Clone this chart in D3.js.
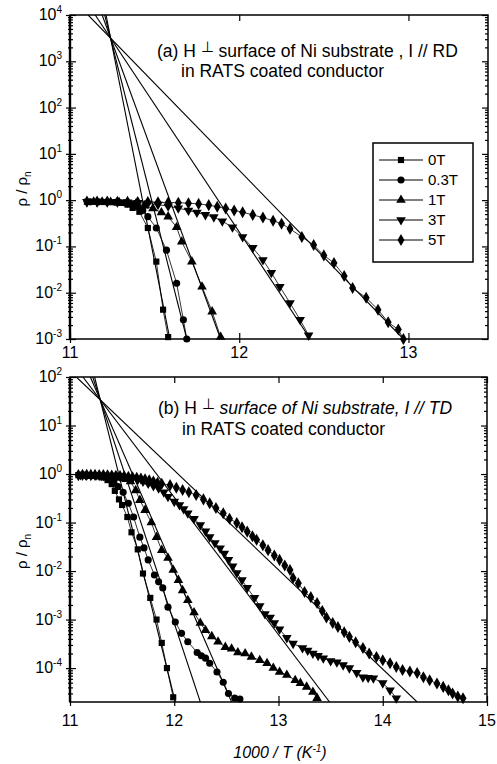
<!DOCTYPE html>
<html>
<head>
<meta charset="utf-8">
<script src="https://cdn.jsdelivr.net/npm/d3@7"></script>
<style>
  body { margin: 0; background: #fff; }
  svg { font-family: "Liberation Sans", Arial, sans-serif; }
</style>
</head>
<body>
<div class="container"></div>
<script>
// field labels (legend) and tick values
const fields = ["0T", "0.3T", "1T", "3T", "5T"];
const rdTicksX = [11, 12, 13];
const tdTicksX = [11, 12, 13, 14, 15];
const rdExponents = [-3, -2, -1, 0, 1, 2, 3, 4];
const tdExponents = [-4, -3, -2, -1, 0, 1, 2];

// (a) I // RD : [1000/T, rho/rho_n]
const rd0T = [[11.10,0.92],[11.15,0.92],[11.20,0.91],[11.25,0.90],[11.30,0.87],[11.34,0.80],[11.37,0.68],[11.41,0.56],[11.46,0.25],[11.51,0.047],[11.55,0.0043],[11.58,0.0011]];
const rd03T = [[11.12,0.92],[11.17,0.92],[11.22,0.91],[11.27,0.90],[11.32,0.88],[11.36,0.84],[11.40,0.74],[11.43,0.60],[11.46,0.44],[11.51,0.25],[11.57,0.083],[11.63,0.016],[11.67,0.0026],[11.69,0.0010]];
const rd1T = [[11.14,0.92],[11.19,0.92],[11.24,0.91],[11.29,0.90],[11.34,0.88],[11.39,0.84],[11.44,0.76],[11.49,0.66],[11.54,0.54],[11.58,0.44],[11.63,0.26],[11.66,0.126],[11.72,0.047],[11.78,0.0135],[11.84,0.0039],[11.89,0.0011]];
const rd3T = [[11.10,0.92],[11.16,0.92],[11.22,0.92],[11.28,0.91],[11.34,0.90],[11.40,0.88],[11.46,0.85],[11.52,0.80],[11.58,0.74],[11.64,0.67],[11.70,0.60],[11.75,0.54],[11.80,0.48],[11.85,0.43],[11.90,0.35],[11.96,0.26],[12.02,0.16],[12.08,0.093],[12.14,0.051],[12.19,0.027],[12.24,0.0135],[12.30,0.0060],[12.36,0.0026],[12.41,0.0012]];
const rd5T = [[11.10,0.93],[11.16,0.93],[11.22,0.93],[11.28,0.92],[11.34,0.92],[11.40,0.91],[11.46,0.91],[11.52,0.90],[11.58,0.89],[11.64,0.88],[11.70,0.86],[11.76,0.83],[11.82,0.78],[11.87,0.72],[11.92,0.66],[11.97,0.60],[12.02,0.55],[12.08,0.48],[12.14,0.42],[12.20,0.36],[12.25,0.31],[12.30,0.24],[12.37,0.16],[12.44,0.107],[12.50,0.064],[12.56,0.044],[12.62,0.023],[12.67,0.0126],[12.75,0.0078],[12.82,0.0043],[12.88,0.0023],[12.94,0.0016],[12.97,0.0010]];
// straight Arrhenius fits, (a)
const rdFits = [
  [[11.213,1e4],[11.59,1e-3]],
  [[11.205,1e4],[11.69,1e-3]],
  [[11.19,1e4],[11.89,1e-3]],
  [[11.149,1e4],[12.42,1e-3]],
  [[11.107,1e4],[12.97,1e-3]]
];

// (b) I // TD
const td0T = [[11.08,0.95],[11.12,0.95],[11.16,0.94],[11.20,0.93],[11.24,0.92],[11.28,0.90],[11.32,0.85],[11.36,0.75],[11.40,0.62],[11.43,0.45],[11.47,0.30],[11.50,0.23],[11.55,0.13],[11.59,0.063],[11.65,0.028],[11.70,0.0089],[11.77,0.0028],[11.83,0.0010],[11.88,0.00033],[11.93,0.00010],[11.99,0.000025]];
const td03T = [[11.10,0.95],[11.14,0.95],[11.18,0.94],[11.22,0.93],[11.26,0.92],[11.30,0.90],[11.34,0.87],[11.38,0.80],[11.42,0.68],[11.46,0.55],[11.51,0.42],[11.56,0.25],[11.61,0.13],[11.67,0.050],[11.71,0.030],[11.75,0.017],[11.81,0.0083],[11.85,0.0060],[11.89,0.0045],[11.94,0.0018],[12.01,0.00089],[12.07,0.00052],[12.13,0.00035],[12.22,0.00021],[12.26,0.00018],[12.30,0.00016],[12.34,0.000126],[12.41,0.000083],[12.47,0.000051],[12.52,0.000030],[12.58,0.000024],[12.63,0.000023]];
const td1T = [[11.12,0.95],[11.16,0.95],[11.20,0.94],[11.24,0.93],[11.28,0.92],[11.32,0.91],[11.36,0.90],[11.41,0.88],[11.46,0.86],[11.50,0.83],[11.54,0.78],[11.58,0.70],[11.63,0.46],[11.67,0.29],[11.72,0.18],[11.78,0.10],[11.83,0.050],[11.88,0.027],[11.94,0.0186],[11.99,0.0105],[12.04,0.0065],[12.08,0.0040],[12.13,0.0025],[12.19,0.0014],[12.25,0.00085],[12.30,0.00060],[12.36,0.00045],[12.42,0.00035],[12.49,0.00027],[12.55,0.00025],[12.61,0.00021],[12.68,0.00020],[12.74,0.00017],[12.82,0.000145],[12.89,0.000126],[12.95,0.000100],[13.01,0.000083],[13.08,0.000072],[13.16,0.000056],[13.21,0.000049],[13.27,0.000041],[13.33,0.000032],[13.37,0.000024]];
const td3T = [[11.10,0.96],[11.15,0.96],[11.20,0.95],[11.25,0.95],[11.30,0.94],[11.35,0.93],[11.40,0.92],[11.45,0.90],[11.50,0.88],[11.55,0.85],[11.60,0.81],[11.65,0.76],[11.70,0.70],[11.75,0.64],[11.80,0.57],[11.85,0.51],[11.90,0.42],[11.94,0.34],[12.00,0.27],[12.05,0.23],[12.09,0.19],[12.13,0.155],[12.19,0.12],[12.25,0.089],[12.30,0.066],[12.34,0.050],[12.39,0.038],[12.44,0.0295],[12.48,0.023],[12.52,0.017],[12.56,0.0125],[12.60,0.0091],[12.65,0.0065],[12.70,0.0045],[12.77,0.0028],[12.82,0.0019],[12.87,0.0013],[12.92,0.0011],[12.96,0.00085],[13.01,0.00063],[13.08,0.00042],[13.14,0.00032],[13.23,0.00026],[13.28,0.00023],[13.33,0.00020],[13.38,0.00018],[13.43,0.00016],[13.50,0.00014],[13.56,0.000132],[13.62,0.000115],[13.68,0.000100],[13.75,0.000080],[13.81,0.000065],[13.86,0.000063],[13.91,0.000062],[14.00,0.000049],[14.07,0.000035],[14.13,0.000024]];
const td5T = [[11.08,0.95],[11.12,0.96],[11.16,0.96],[11.20,0.96],[11.24,0.96],[11.28,0.95],[11.32,0.95],[11.36,0.94],[11.40,0.93],[11.44,0.92],[11.48,0.91],[11.52,0.90],[11.56,0.88],[11.60,0.86],[11.64,0.84],[11.68,0.81],[11.72,0.78],[11.76,0.74],[11.80,0.70],[11.84,0.66],[11.88,0.63],[11.96,0.59],[12.02,0.52],[12.08,0.47],[12.14,0.42],[12.21,0.37],[12.28,0.30],[12.34,0.25],[12.40,0.20],[12.47,0.155],[12.53,0.12],[12.60,0.098],[12.65,0.080],[12.70,0.065],[12.75,0.052],[12.79,0.044],[12.85,0.034],[12.90,0.027],[12.96,0.021],[13.01,0.017],[13.06,0.013],[13.11,0.0105],[13.14,0.0072],[13.19,0.0056],[13.25,0.0037],[13.31,0.0029],[13.37,0.0022],[13.42,0.0015],[13.46,0.0011],[13.52,0.00085],[13.57,0.00070],[13.63,0.00055],[13.68,0.00044],[13.74,0.00034],[13.81,0.00026],[13.87,0.00020],[13.94,0.00017],[14.00,0.000145],[14.07,0.000126],[14.13,0.000105],[14.19,0.000091],[14.26,0.000085],[14.33,0.000079],[14.39,0.000065],[14.45,0.000056],[14.52,0.000048],[14.58,0.000041],[14.63,0.000035],[14.67,0.000030],[14.72,0.000026],[14.77,0.000024]];
// straight Arrhenius fits, (b)
const tdFits = [
  [[11.236,100],[12.01,2e-5]],
  [[11.218,100],[12.25,2e-5]],
  [[11.195,100],[12.55,2e-5]],
  [[11.124,100],[13.49,2e-5]],
  [[11.061,100],[14.33,2e-5]]
];

const width = 497, height = 764;
const svg = d3.select(".container").append("svg")
  .attr("width", width).attr("height", height);

const symbols = [
  d3.symbol().type(d3.symbolSquare).size(38),
  d3.symbol().type(d3.symbolCircle).size(40),
  d3.symbol().type(d3.symbolTriangle).size(40),
  d3.symbol().type(d3.symbolTriangle).size(40),
  d3.symbol().type(d3.symbolDiamond).size(42)
];
const rotations = [0, 0, 0, 180, 0];

const panels = [
  { id: "a", left: 70, right: 488, top: 15, bottom: 339,
    xDomain: [11, 13.47], yDomain: [1e-3, 1e4],
    ticksX: rdTicksX, exps: rdExponents, labelGap: 19,
    series: [rd0T, rd03T, rd1T, rd3T, rd5T], fits: rdFits },
  { id: "b", left: 70, right: 487, top: 377, bottom: 702,
    xDomain: [11, 15], yDomain: [2e-5, 100],
    ticksX: tdTicksX, exps: tdExponents, labelGap: 24,
    series: [td0T, td03T, td1T, td3T, td5T], fits: tdFits }
];

function drawPanel(p) {
  const x = d3.scaleLinear().domain(p.xDomain).range([p.left, p.right]);
  const y = d3.scaleLog().domain(p.yDomain).range([p.bottom, p.top]);
  const g = svg.append("g");

  svg.append("clipPath").attr("id", "clip-" + p.id)
    .append("rect")
    .attr("x", p.left).attr("y", p.top)
    .attr("width", p.right - p.left).attr("height", p.bottom - p.top);

  const line = d3.line().x(d => x(d[0])).y(d => y(d[1]));

  // fit lines
  g.append("g").attr("clip-path", `url(#clip-${p.id})`)
    .selectAll("path").data(p.fits).join("path")
    .attr("d", line)
    .attr("fill", "none").attr("stroke", "#000").attr("stroke-width", 1.1);

  // data series
  p.series.forEach((s, i) => {
    g.append("path").datum(s)
      .attr("clip-path", `url(#clip-${p.id})`)
      .attr("d", line)
      .attr("fill", "none").attr("stroke", "#000").attr("stroke-width", 0.8);
    g.append("g").selectAll("path").data(s).join("path")
      .attr("d", symbols[i])
      .attr("transform", d => `translate(${x(d[0])},${y(d[1])}) rotate(${rotations[i]})`)
      .attr("fill", "#000");
  });

  // ticks
  const [lo, hi] = p.yDomain;
  const minor = [];
  for (let e = Math.floor(Math.log10(lo)); e <= Math.ceil(Math.log10(hi)); e++) {
    for (let k = 2; k <= 9; k++) {
      const v = k * Math.pow(10, e);
      if (v > lo && v < hi) minor.push(v);
    }
  }
  const major = p.exps.map(e => Math.pow(10, e));

  const axisStyle = sel => {
    sel.select(".domain").remove();
    sel.selectAll("line").attr("stroke", "#000").attr("stroke-width", 1.2);
  };
  const addY = (axisFn, xpos, vals, size) => svg.append("g")
    .attr("transform", `translate(${xpos},0)`)
    .call(axisFn(y).tickValues(vals).tickSize(size).tickFormat(""))
    .call(axisStyle);
  addY(d3.axisLeft, p.left, major, -6);
  addY(d3.axisLeft, p.left, major, 4);
  addY(d3.axisLeft, p.left, minor, -3);
  addY(d3.axisLeft, p.left, minor, 2);
  addY(d3.axisRight, p.right, major, -6);
  addY(d3.axisRight, p.right, minor, -3);

  const addX = (axisFn, ypos, size) => svg.append("g")
    .attr("transform", `translate(0,${ypos})`)
    .call(axisFn(x).tickValues(p.ticksX).tickSize(size).tickFormat(""))
    .call(axisStyle);
  addX(d3.axisBottom, p.bottom, -6);
  addX(d3.axisBottom, p.bottom, 4);
  addX(d3.axisTop, p.top, -6);

  // frame
  svg.append("rect")
    .attr("x", p.left).attr("y", p.top)
    .attr("width", p.right - p.left).attr("height", p.bottom - p.top)
    .attr("fill", "none").attr("stroke", "#000").attr("stroke-width", 1.5);
  svg.append("line")
    .attr("x1", p.left).attr("x2", p.left).attr("y1", p.top).attr("y2", p.bottom)
    .attr("stroke", "#000").attr("stroke-width", 2.4);

  // y tick labels 10^n
  const yl = svg.append("g").selectAll("text").data(p.exps).join("text")
    .attr("x", p.left - 8)
    .attr("y", e => y(Math.pow(10, e)) + 5)
    .attr("text-anchor", "end")
    .attr("font-size", 16);
  yl.append("tspan").text("10");
  yl.append("tspan").attr("dy", -7).attr("font-size", 10).text(e => e);

  // x tick labels
  svg.append("g").selectAll("text").data(p.ticksX).join("text")
    .attr("x", d => x(d))
    .attr("y", p.bottom + p.labelGap)
    .attr("text-anchor", "middle")
    .attr("font-size", 16)
    .text(d => d);

  // y axis title
  const yt = svg.append("text")
    .attr("transform", `translate(27,${(p.top + p.bottom) / 2 + 12}) rotate(-90)`)
    .attr("text-anchor", "middle")
    .attr("font-size", 15);
  yt.append("tspan").text("\u03c1 / \u03c1");
  yt.append("tspan").attr("dy", 4).attr("font-size", 10).text("n");

  return { x, y };
}

panels.forEach(drawPanel);

// panel annotations
const tA = svg.append("text").attr("x", 157).attr("y", 57).attr("font-size", 17.5);
tA.append("tspan").text("(a) H ");
tA.append("tspan").attr("dy", -5).attr("font-size", 15).text("\u22a5");
tA.append("tspan").attr("dy", 5).text("  surface of Ni substrate , I // RD");
svg.append("text").attr("x", 181).attr("y", 77).attr("font-size", 17.5)
  .text("in RATS coated conductor");

const tB = svg.append("text").attr("x", 158).attr("y", 414).attr("font-size", 17.5);
tB.append("tspan").text("(b) H ");
tB.append("tspan").attr("dy", -5).attr("font-size", 15).text("\u22a5");
tB.append("tspan").attr("dy", 5).attr("font-style", "italic").text("  surface of Ni substrate, I // TD");
svg.append("text").attr("x", 182).attr("y", 435).attr("font-size", 17.5)
  .text("in RATS coated conductor");

// legend in panel (a)
const legend = svg.append("g");
legend.append("rect")
  .attr("x", 373).attr("y", 143).attr("width", 100).attr("height", 119)
  .attr("fill", "#fff").attr("stroke", "#000").attr("stroke-width", 1.5);
fields.forEach((f, i) => {
  const ly = 160 + i * 20;
  legend.append("line").attr("x1", 379).attr("x2", 423).attr("y1", ly).attr("y2", ly)
    .attr("stroke", "#000").attr("stroke-width", 1);
  legend.append("path").attr("d", symbols[i])
    .attr("transform", `translate(401,${ly}) rotate(${rotations[i]})`);
  legend.append("text").attr("x", 428).attr("y", ly + 5).attr("font-size", 15).text(f);
});

// x axis title
const xt = svg.append("text").attr("x", 280).attr("y", 758)
  .attr("text-anchor", "middle").attr("font-size", 16).attr("font-style", "italic");
xt.append("tspan").text("1000 / T (K");
xt.append("tspan").attr("dy", -6).attr("font-size", 10).text("-1");
xt.append("tspan").attr("dy", 6).text(")");
</script>
</body>
</html>
